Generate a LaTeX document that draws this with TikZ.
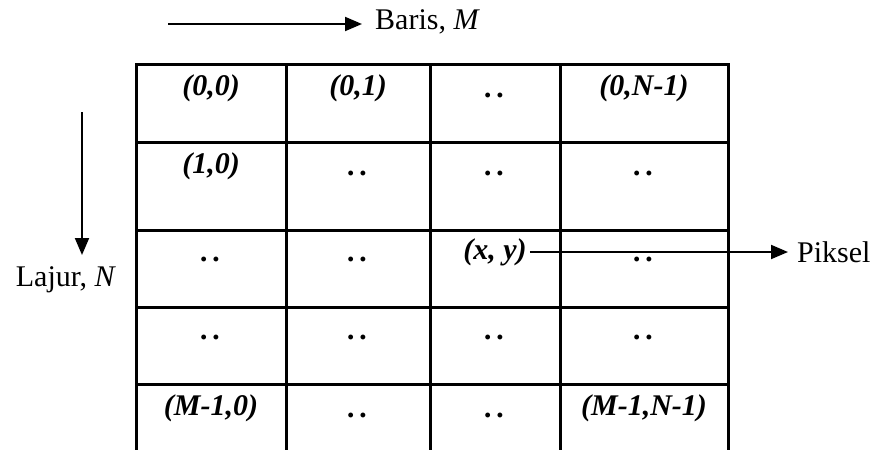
\documentclass[tikz,border=0pt]{standalone}
\usepackage{fontspec}
\setmainfont{Liberation Serif}
\usetikzlibrary{arrows.meta}
\begin{document}
\begin{tikzpicture}[x=1pt,y=-1pt,
  gridline/.style={line width=3pt, line cap=rect},
  arr/.style={line width=2pt, -{Triangle[length=17pt,width=14pt]}},
  cell/.style={font=\fontsize{30}{34}\selectfont\bfseries\itshape, inner sep=0pt, anchor=center},
  lbl/.style={font=\fontsize{30}{34}\selectfont, inner sep=0pt}]
\useasboundingbox (0,0) rectangle (876,450);
\begin{scope}
\clip (0,0) rectangle (876,450);
% vertical grid lines
\foreach \x in {136,286,430,560,728} \draw[gridline] (\x,64) -- (\x,460);
% horizontal grid lines
\foreach \y in {64,142,230,307,384} \draw[gridline] (136,\y) -- (728,\y);
\end{scope}
% cell texts
\def\rA{88}\def\rB{166}\def\rC{252}\def\rD{330}\def\rE{408}
\node[cell] (c00) at (211,\rA) {(0,0)};
\node[cell] (c01) at (358,\rA) {(0,1)};
\node[cell] (c02) at (495,\rA+7) {.\,.};
\node[cell] (c03) at (644,\rA) {(0,N-1)};
\node[cell] (c10) at (211,\rB) {(1,0)};
\node[cell] (c11) at (358,\rB+7) {.\,.};
\node[cell] (c12) at (495,\rB+7) {.\,.};
\node[cell] (c13) at (644,\rB+7) {.\,.};
\node[cell] (c20) at (211,\rC+7) {.\,.};
\node[cell] (c21) at (358,\rC+7) {.\,.};
\node[cell] (xy) at (495,\rC) {(x, y)};
\node[cell] (c23) at (644,\rC+7) {.\,.};
\node[cell] (c30) at (211,\rD+7) {.\,.};
\node[cell] (c31) at (358,\rD+7) {.\,.};
\node[cell] (c32) at (495,\rD+7) {.\,.};
\node[cell] (c33) at (644,\rD+7) {.\,.};
\node[cell] (c40) at (211,\rE) {(M-1,0)};
\node[cell] (c41) at (358,\rE+7) {.\,.};
\node[cell] (c42) at (495,\rE+7) {.\,.};
\node[cell] (c43) at (644,\rE) {(M-1,N-1)};
% labels
\node[lbl, anchor=west] (baris) at (375,22) {Baris, \textit{M}};
\node[lbl, anchor=west] (piksel) at (797,252) {Piksel};
\node[lbl] (lajur) at (66,280) {Lajur, \textit{N}};
% arrows
\coordinate (bstart) at (168,24);
\coordinate (bend) at (362,24);
\draw[arr] (bstart) -- (bend);
\coordinate (lstart) at (82,112);
\coordinate (lend) at (82,255);
\draw[arr] (lstart) -- (lend);
\coordinate (pend) at (788,252);
\draw[arr] (xy.east |- pend) ++(3,0) -- (pend);
\end{tikzpicture}
\end{document}
